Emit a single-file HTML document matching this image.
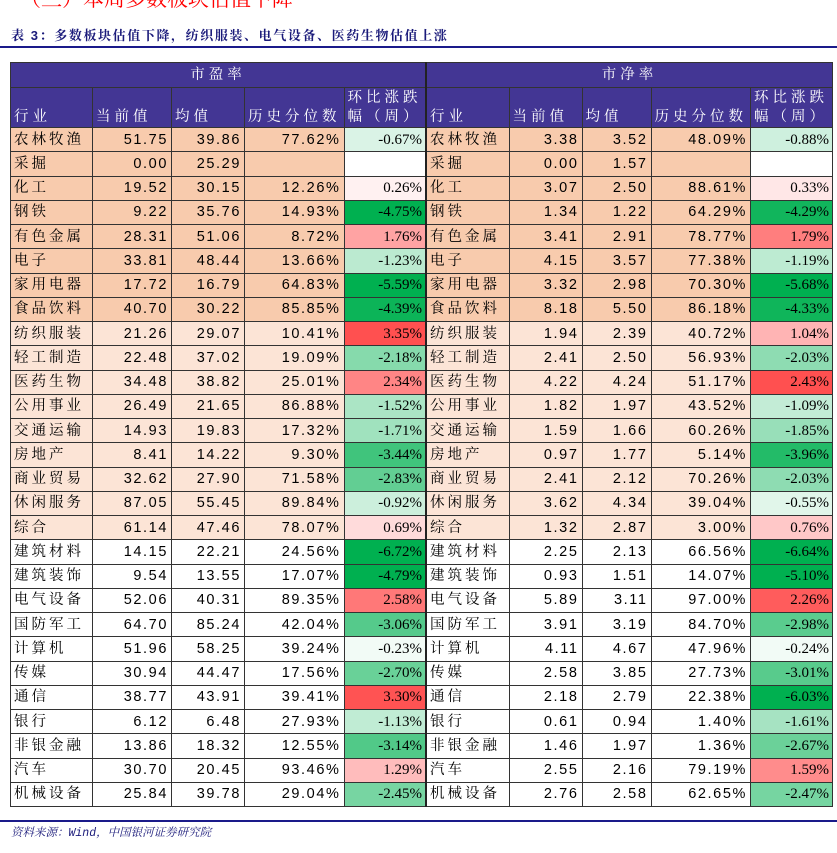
<!DOCTYPE html>
<html><head><meta charset="utf-8">
<style>
body{margin:0;width:837px;height:853px;background:#fff;position:relative;overflow:hidden;font-family:"Liberation Sans","Noto Serif CJK SC",serif;}
.abs{position:absolute;}
#t{position:absolute;left:10px;top:62px;border-collapse:collapse;table-layout:fixed;}
#t td{border:1px solid #333;padding:0 3px;font-size:14.5px;height:24.25px;line-height:22px;white-space:nowrap;overflow:hidden;box-sizing:border-box;}
#t td.n{text-align:right;letter-spacing:1.6px;font-family:"Liberation Sans",sans-serif;}
#t td.c{text-align:right;font-family:"Liberation Serif",serif;font-size:15px;letter-spacing:0;}
#t td.i{font-family:"Liberation Sans","Noto Serif CJK SC",serif;letter-spacing:3px;}
#t td.h{background:#433694;color:#fff;font-family:"Liberation Sans","Noto Serif CJK SC",serif;letter-spacing:4px;vertical-align:bottom;line-height:19px;}
#t .mid{border-left:2px solid #222;}
</style></head><body>
<div class="abs" style="left:20px;top:-17px;color:#f00;font-size:21px;font-family:'Liberation Serif','Noto Serif CJK SC',serif;letter-spacing:0px;">（三）本周多数板块估值下降</div>
<div class="abs" style="left:11px;top:25px;color:#1a1a7a;font-size:13px;font-weight:bold;font-family:'Liberation Sans','Noto Serif CJK SC',serif;letter-spacing:1.6px;">表 3：多数板块估值下降，纺织服装、电气设备、医药生物估值上涨</div>
<div class="abs" style="left:0;top:46px;width:837px;height:2px;background:#1a1a8a;"></div>
<table id="t">
<colgroup><col style="width:82px"><col style="width:79px"><col style="width:73px"><col style="width:98px"><col style="width:82px"><col style="width:83px"><col style="width:73px"><col style="width:69px"><col style="width:97px"><col style="width:82px"></colgroup>
<tr><td class="h" colspan="5" style="text-align:center;vertical-align:middle;height:25px">市盈率</td><td class="h mid" colspan="5" style="text-align:center;vertical-align:middle;height:25px">市净率</td></tr>
<tr id="hr"></tr>
</table>
<div class="abs" style="left:0;top:820px;width:837px;height:2px;background:#1a1a8a;"></div>
<div class="abs" style="left:11px;top:824px;color:#1a1a7a;font-size:11.5px;font-style:italic;font-family:'Liberation Mono','Noto Serif CJK SC',monospace;">资料来源：Wind，中国银河证券研究院</div>
<script>
const industries=["农林牧渔","采掘","化工","钢铁","有色金属","电子","家用电器","食品饮料","纺织服装","轻工制造","医药生物","公用事业","交通运输","房地产","商业贸易","休闲服务","综合","建筑材料","建筑装饰","电气设备","国防军工","计算机","传媒","通信","银行","非银金融","汽车","机械设备"];
const peCur=["51.75","0.00","19.52","9.22","28.31","33.81","17.72","40.70","21.26","22.48","34.48","26.49","14.93","8.41","32.62","87.05","61.14","14.15","9.54","52.06","64.70","51.96","30.94","38.77","6.12","13.86","30.70","25.84"];
const peAvg=["39.86","25.29","30.15","35.76","51.06","48.44","16.79","30.22","29.07","37.02","38.82","21.65","19.83","14.22","27.90","55.45","47.46","22.21","13.55","40.31","85.24","58.25","44.47","43.91","6.48","18.32","20.45","39.78"];
const pePct=["77.62%","","12.26%","14.93%","8.72%","13.66%","64.83%","85.85%","10.41%","19.09%","25.01%","86.88%","17.32%","9.30%","71.58%","89.84%","78.07%","24.56%","17.07%","89.35%","42.04%","39.24%","17.56%","39.41%","27.93%","12.55%","93.46%","29.04%"];
const peChg=[-0.67,null,0.26,-4.75,1.76,-1.23,-5.59,-4.39,3.35,-2.18,2.34,-1.52,-1.71,-3.44,-2.83,-0.92,0.69,-6.72,-4.79,2.58,-3.06,-0.23,-2.70,3.30,-1.13,-3.14,1.29,-2.45];
const pbCur=["3.38","0.00","3.07","1.34","3.41","4.15","3.32","8.18","1.94","2.41","4.22","1.82","1.59","0.97","2.41","3.62","1.32","2.25","0.93","5.89","3.91","4.11","2.58","2.18","0.61","1.46","2.55","2.76"];
const pbAvg=["3.52","1.57","2.50","1.22","2.91","3.57","2.98","5.50","2.39","2.50","4.24","1.97","1.66","1.77","2.12","4.34","2.87","2.13","1.51","3.11","3.19","4.67","3.85","2.79","0.94","1.97","2.16","2.58"];
const pbPct=["48.09%","","88.61%","64.29%","78.77%","77.38%","70.30%","86.18%","40.72%","56.93%","51.17%","43.52%","60.26%","5.14%","70.26%","39.04%","3.00%","66.56%","14.07%","97.00%","84.70%","47.96%","27.73%","22.38%","1.40%","1.36%","79.19%","62.65%"];
const pbChg=[-0.88,null,0.33,-4.29,1.79,-1.19,-5.68,-4.33,1.04,-2.03,2.43,-1.09,-1.85,-3.96,-2.03,-0.55,0.76,-6.64,-5.10,2.26,-2.98,-0.24,-3.01,-6.03,-1.61,-2.67,1.59,-2.47];
const headers=["行业","当前值","均值","历史分位数","环比涨跌幅（周）"];

function chgColor(v,redMax){
  if(v===null) return "#fff";
  if(v<0){const t=Math.min(-v/4.6,1);return `rgb(${Math.round(255-255*t)},${Math.round(255-79*t)},${Math.round(255-175*t)})`;}
  const t=Math.min(v/redMax,1);return `rgb(255,${Math.round(255-175*t)},${Math.round(255-175*t)})`;
}
function rowBg(i){return i<8?"#f8cbad":(i<17?"#fce4d6":"#fff");}
const t=document.getElementById('t');
const hr=document.getElementById('hr');
for(let s=0;s<2;s++){headers.forEach((h,k)=>{const td=document.createElement('td');td.className='h'+(s===1&&k===0?' mid':'');td.style.height='40px';


td.innerHTML=k===4?'环比涨跌<br>幅（周）':h;hr.appendChild(td);});}
function cell(tr,txt,cls,bg,name){const td=document.createElement('td');td.className=cls;td.textContent=txt;td.style.background=bg;


tr.appendChild(td);}
industries.forEach((ind,i)=>{
  const tr=document.createElement('tr');
  
  
  const bg=rowBg(i);
  cell(tr,ind,'i',bg,'pe-industry');
  cell(tr,peCur[i],'n',bg,'pe-current');
  cell(tr,peAvg[i],'n',bg,'pe-average');
  cell(tr,pePct[i],'n',bg,'pe-percentile');
  cell(tr,peChg[i]===null?'':peChg[i].toFixed(2)+'%','c',chgColor(peChg[i],3.35),'pe-change');
  cell(tr,ind,'i mid',bg,'pb-industry');
  cell(tr,pbCur[i],'n',bg,'pb-current');
  cell(tr,pbAvg[i],'n',bg,'pb-average');
  cell(tr,pbPct[i],'n',bg,'pb-percentile');
  cell(tr,pbChg[i]===null?'':pbChg[i].toFixed(2)+'%','c',chgColor(pbChg[i],2.43),'pb-change');
  t.appendChild(tr);
});
</script>
</body></html>
